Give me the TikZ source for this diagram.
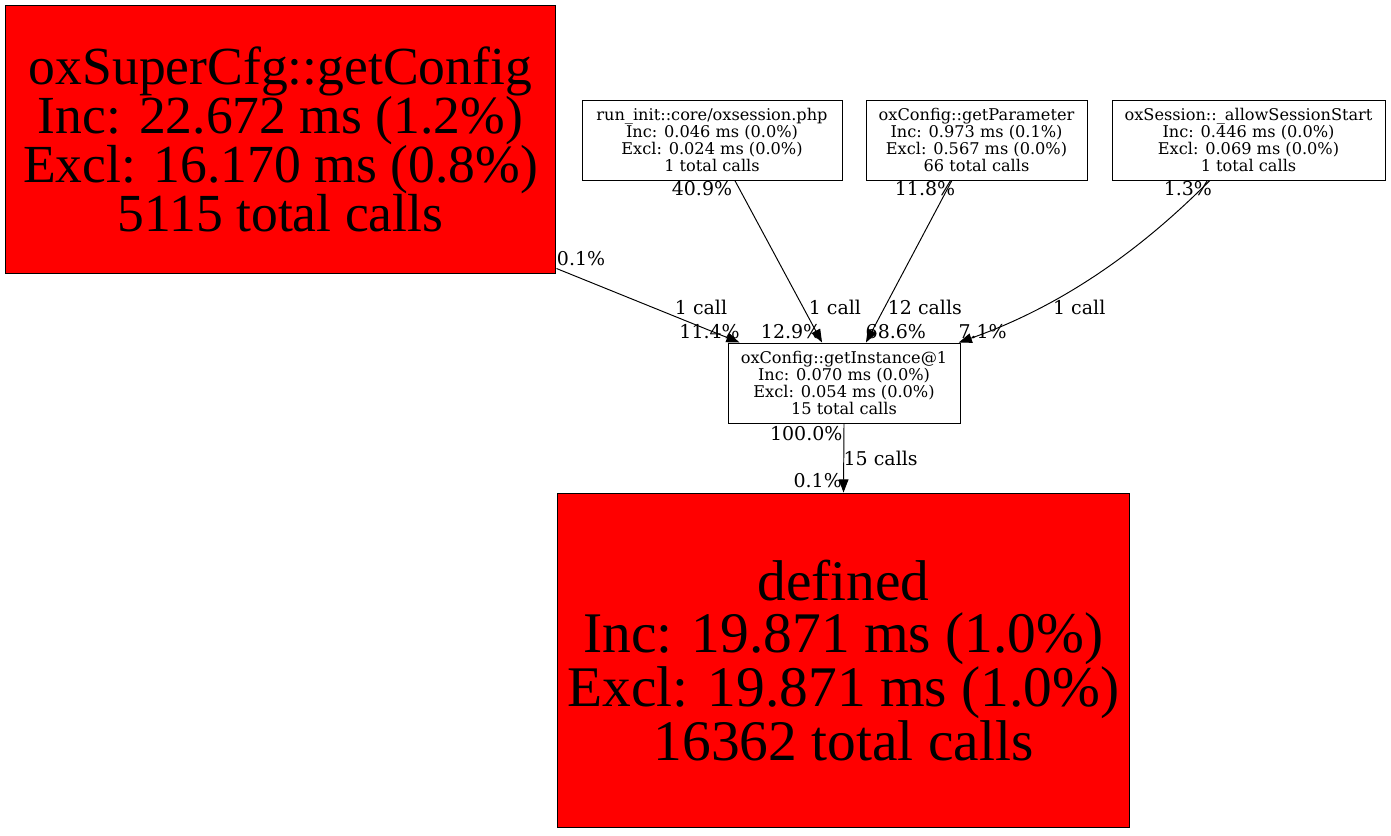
\documentclass[tikz,border=0pt]{standalone}
\usepackage{fontspec}
\setmainfont{Liberation Serif}
\newfontfamily\edgefont{DejaVu Serif}
\usetikzlibrary{arrows.meta}
\tikzstyle{block} = [draw, rectangle, line width=0.55pt, align=center, inner sep=0pt, minimum height=1.6cm, font=\edgefont\fontsize{9.2}{9.7}\selectfont]
\tikzstyle{hot} = [block, fill=red, font=\fontsize{30.5}{27.8}\selectfont]
\tikzstyle{wire} = [-{Triangle[length=7.5pt,width=5.5pt]}, line width=0.55pt]
\tikzstyle{lbl} = [inner sep=0pt, font=\edgefont\fontsize{10.8}{12}\selectfont]

\begin{document}
\begin{tikzpicture}[x=0.02cm, y=-0.02cm]
  \useasboundingbox (0,0) rectangle (1391,835);
  \node[hot, minimum width=11.02cm, minimum height=5.38cm] (cfg) at (280.5,139.5) {oxSuperCfg::getConfig\\Inc: 22.672 ms (1.2\%)\\Excl: 16.170 ms (0.8\%)\\5115 total calls};
  \node[block, minimum width=5.2cm] (run) at (712,140) {run\_init::core/oxsession.php\\Inc: 0.046 ms (0.0\%)\\Excl: 0.024 ms (0.0\%)\\1 total calls};
  \node[block, minimum width=4.42cm] (param) at (976.5,140) {oxConfig::getParameter\\Inc: 0.973 ms (0.1\%)\\Excl: 0.567 ms (0.0\%)\\66 total calls};
  \node[block, minimum width=5.46cm] (sess) at (1248.5,140) {oxSession::\_allowSessionStart\\Inc: 0.446 ms (0.0\%)\\Excl: 0.069 ms (0.0\%)\\1 total calls};
  \node[block, minimum width=4.64cm] (inst) at (844,383) {oxConfig::getInstance@1\\Inc: 0.070 ms (0.0\%)\\Excl: 0.054 ms (0.0\%)\\15 total calls};
  \node[hot, minimum width=11.46cm, minimum height=6.7cm, font=\fontsize{32.7}{29.5}\selectfont] (def) at (843.5,660.5) {defined\\Inc: 19.871 ms (1.0\%)\\Excl: 19.871 ms (1.0\%)\\16362 total calls};
  % calls into getInstance
  \draw[wire] ([yshift=3.4pt]cfg.south east) -- node[lbl, pos=0, xshift=14pt, yshift=5.7pt] {0.1\%} node[lbl, pos=0.79, yshift=11pt] {1 call} node[lbl, pos=1, xshift=-17pt, yshift=6.2pt] {11.4\%} ([xshift=6.8pt]inst.north west);
  \draw[wire] ([xshift=13pt]run.south) -- node[lbl, pos=0, xshift=-18.7pt, yshift=-4.5pt] {40.9\%} node[lbl, pos=0.785, xshift=18pt] {1 call} node[lbl, pos=1, xshift=-17.6pt, yshift=6.2pt] {12.9\%} ([xshift=-12.5pt]inst.north);
  \draw[wire] ([xshift=-14pt]param.south) -- node[lbl, pos=0, xshift=-15.3pt, yshift=-4.5pt] {11.8\%} node[lbl, pos=0.785, xshift=23pt] {12 calls} node[lbl, pos=1, xshift=17pt, yshift=6.2pt] {68.6\%} ([xshift=12.5pt]inst.north);
  \draw[wire] ([xshift=-22pt]sess.south) .. controls +(-50,50) and +(122,-43) .. node[lbl, pos=0, xshift=-12.5pt, yshift=-4.5pt] {1.3\%} node[lbl, pos=1, xshift=68.6pt, yshift=19.8pt] {1 call} node[lbl, pos=1, xshift=13.6pt, yshift=6.2pt] {7.1\%} ([xshift=-1pt]inst.north east);
  % getInstance into defined
  \draw[wire] (inst.south) -- node[lbl, pos=0, xshift=-21.5pt, yshift=-5.7pt] {100.0\%} node[lbl, pos=0.5, xshift=21pt] {15 calls} node[lbl, pos=1, xshift=-14.7pt, yshift=6.8pt] {0.1\%} (def.north);
\end{tikzpicture}
\end{document}
